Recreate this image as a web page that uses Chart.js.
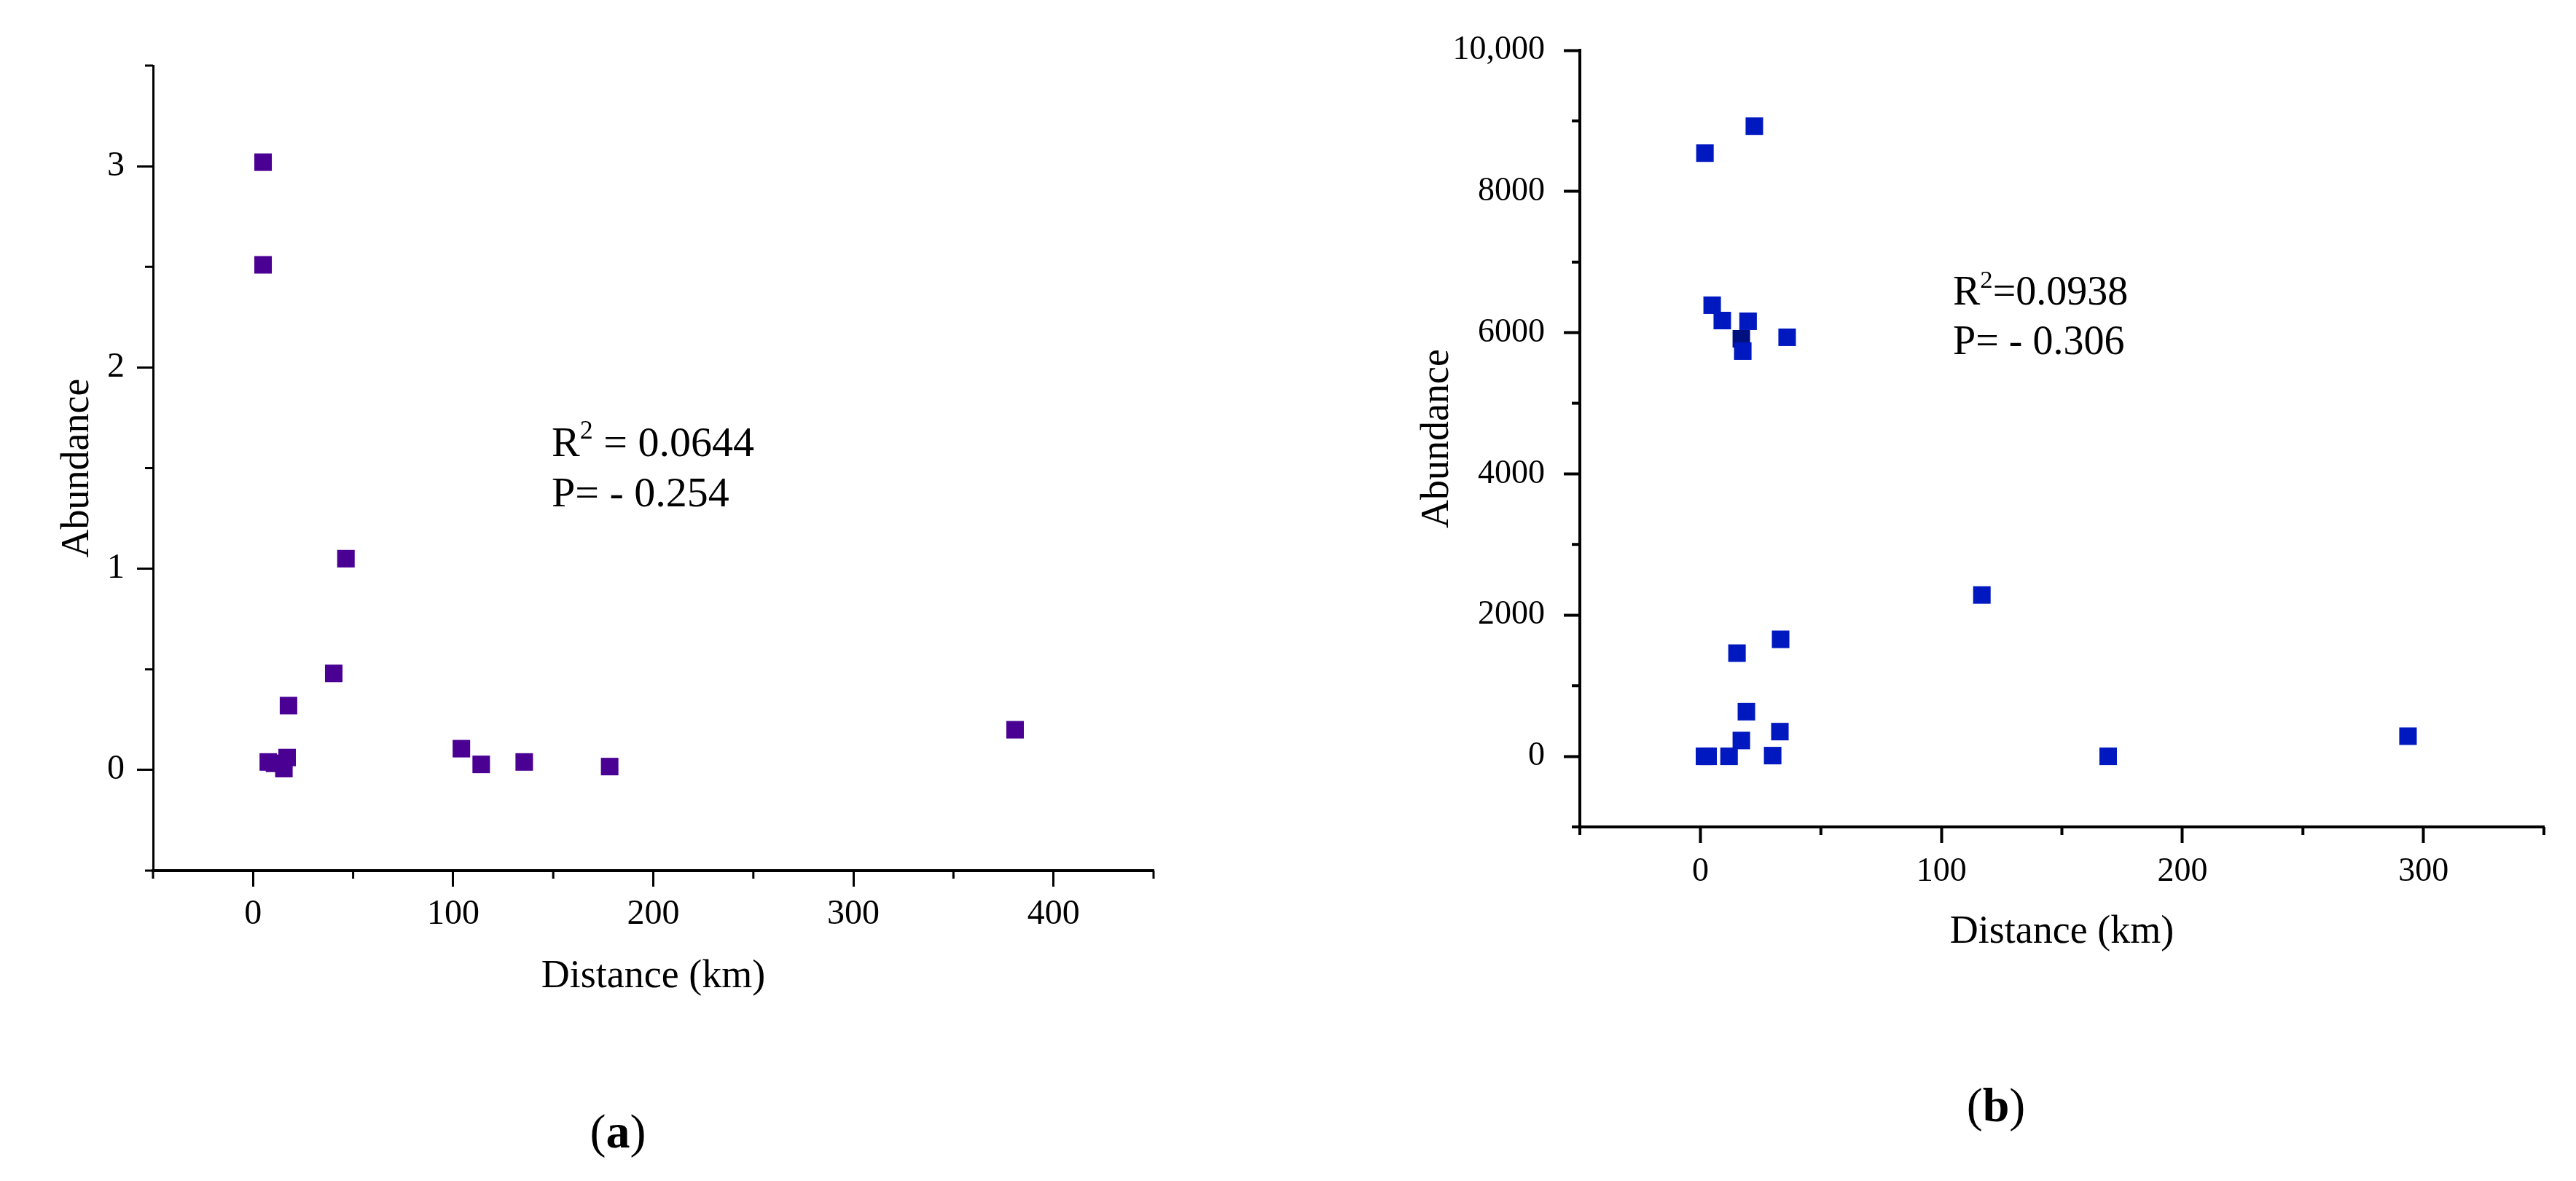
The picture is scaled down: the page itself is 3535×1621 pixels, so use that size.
<!DOCTYPE html>
<html>
<head>
<meta charset="utf-8">
<script src="https://cdn.jsdelivr.net/npm/chart.js@4.4.0/dist/chart.umd.min.js"></script>
<style>
  body { margin: 0; background: #fff; width: 3535px; height: 1621px; position: relative; overflow: hidden; }
  canvas { position: absolute; top: 0; }
  #chartA { left: 0; }
  #chartB { left: 1750px; }
  .stat { position: absolute; font-family: "Liberation Serif", "Times New Roman", serif; color: #000; white-space: pre; }
  .stat sup { font-size: 0.62em; position: relative; top: -0.1em; vertical-align: super; line-height: 0; }
  .panel { position: absolute; font-family: "Liberation Serif", "Times New Roman", serif; font-size: 66px; color: #000; transform: translate(-50%, -50%); }
</style>
</head>
<body>
<canvas id="chartA" width="1700" height="1420"></canvas>
<canvas id="chartB" width="1785" height="1420"></canvas>

<div class="stat" style="left:757px; top:572px; font-size:58px; line-height:69px;">R<sup>2</sup> = 0.0644<br>P= - 0.254</div>
<div class="stat" style="left:2680px; top:365px; font-size:56px; line-height:68px;">R<sup>2</sup>=0.0938<br>P= - 0.306</div>

<div class="panel" style="left:848px; top:1553px;">(<b>a</b>)</div>
<div class="panel" style="left:2739px; top:1517px;">(<b>b</b>)</div>

<script>
// panel (a) - distance vs abundance
const aDistance = [5.0, 5.0, 46.4, 40.3, 17.7, 7.6, 10.7, 15.4, 17.0, 104.1, 114.0, 135.5, 178.2, 380.8];
const aAbundance = [3.02, 2.51, 1.05, 0.48, 0.32, 0.04, 0.033, 0.007, 0.062, 0.106, 0.028, 0.04, 0.017, 0.2];

// panel (b)
const bDistance = [1.9, 22.4, 4.9, 9.1, 19.8, 17.6, 36.0, 116.8, 33.3, 15.2, 19.1, 17.0, 33.0, 1.7, 3.2, 11.9, 30.0, 169.2, 293.6];
const bAbundance = [8543, 8925, 6389, 6172, 6162, 5739, 5935, 2285, 1657, 1461, 632, 224, 350, 0, 0, 0, 10, 0, 285];
// one darker point sits on top of the cluster near 6000
const bDarkDistance = [17.0];
const bDarkAbundance = [5914];

// ticks (all ticks, labelled ones listed separately)
const aXTicks = [-50, 0, 50, 100, 150, 200, 250, 300, 350, 400, 450];
const aXLabels = [0, 100, 200, 300, 400];
const aYTicks = [-0.5, 0, 0.5, 1, 1.5, 2, 2.5, 3, 3.5];
const aYLabels = [0, 1, 2, 3];

const bXTicks = [-50, 0, 50, 100, 150, 200, 250, 300, 350];
const bXLabels = [0, 100, 200, 300];
const bYTicks = [-1000, 0, 1000, 2000, 3000, 4000, 5000, 6000, 7000, 8000, 9000, 10000];
const bYLabels = [0, 2000, 4000, 6000, 8000, 10000];

const FONT = "Liberation Serif";

function toPoints(xs, ys) {
  return xs.map((x, i) => ({ x: x, y: ys[i] }));
}

// Chart.js has no minor ticks, so the short ones are drawn here
const minorTicks = {
  id: "minorTicks",
  afterDraw(chart, args, opts) {
    const ctx = chart.ctx;
    const area = chart.chartArea;
    const xs = chart.scales.x;
    const ys = chart.scales.y;
    ctx.save();
    ctx.strokeStyle = "#000";
    ctx.lineWidth = opts.width;
    ctx.beginPath();
    opts.xValues.forEach((v) => {
      const px = xs.getPixelForValue(v);
      ctx.moveTo(px, area.bottom);
      ctx.lineTo(px, area.bottom + opts.length);
    });
    opts.yValues.forEach((v) => {
      const py = ys.getPixelForValue(v);
      ctx.moveTo(area.left, py);
      ctx.lineTo(area.left - opts.length, py);
    });
    ctx.stroke();
    ctx.restore();
  },
};

function makeScatter(canvas, datasets, cfg) {
  const ctx = canvas.getContext("2d");

  return new Chart(ctx, {
    type: "scatter",
    data: { datasets: datasets },
    options: {
      responsive: false,
      animation: false,
      events: [],
      layout: { padding: cfg.padding },
      plugins: {
        legend: { display: false },
        tooltip: { enabled: false },
        minorTicks: {
          width: cfg.tickWidth,
          length: 11,
          xValues: cfg.xTicks.filter((v) => !cfg.xLabels.includes(v)),
          yValues: cfg.yTicks.filter((v) => !cfg.yLabels.includes(v)),
        },
      },
      scales: {
        x: {
          type: "linear",
          min: cfg.xTicks[0],
          max: cfg.xTicks[cfg.xTicks.length - 1],
          afterBuildTicks: (scale) => {
            scale.ticks = cfg.xTicks.map((v) => ({ value: v }));
          },
          afterFit: (scale) => {
            scale.height = cfg.xAxisHeight;
          },
          border: { display: true, color: "#000", width: cfg.xBorder },
          grid: {
            drawOnChartArea: false,
            drawTicks: true,
            tickLength: 22,
            tickWidth: cfg.tickWidth,
            tickColor: (c) => (cfg.xLabels.includes(c.tick.value) ? "#000" : "rgba(0,0,0,0)"),
          },
          ticks: {
            autoSkip: false,
            maxRotation: 0,
            padding: cfg.xTickPad,
            color: "#000",
            font: { family: FONT, size: cfg.tickSize },
            callback: (v) => (cfg.xLabels.includes(v) ? String(v) : ""),
          },
          title: {
            display: true,
            text: "Distance (km)",
            color: "#000",
            font: { family: FONT, size: 54 },
            padding: { top: 0, bottom: cfg.xTitlePad },
          },
        },
        y: {
          type: "linear",
          min: cfg.yTicks[0],
          max: cfg.yTicks[cfg.yTicks.length - 1],
          afterBuildTicks: (scale) => {
            scale.ticks = cfg.yTicks.map((v) => ({ value: v }));
          },
          afterFit: (scale) => {
            scale.width = cfg.yAxisWidth;
          },
          border: { display: true, color: "#000", width: cfg.yBorder },
          grid: {
            drawOnChartArea: false,
            drawTicks: true,
            tickLength: 22,
            tickWidth: cfg.tickWidth,
            tickColor: (c) => (cfg.yLabels.includes(c.tick.value) ? "#000" : "rgba(0,0,0,0)"),
          },
          ticks: {
            autoSkip: false,
            padding: cfg.yTickPad,
            color: "#000",
            font: { family: FONT, size: cfg.tickSize },
            callback: cfg.yFormat,
          },
          title: {
            display: true,
            text: "Abundance",
            color: "#000",
            font: { family: FONT, size: 54 },
            padding: { top: cfg.yTitlePad, bottom: 0 },
          },
        },
      },
    },
    plugins: [minorTicks],
  });
}

makeScatter(
  document.getElementById("chartA"),
  [
    {
      data: toPoints(aDistance, aAbundance),
      pointStyle: "rect",
      pointRadius: 17,
      borderWidth: 0,
      backgroundColor: "#4b0094",
    },
  ],
  {
    padding: { left: 0, top: 90, right: 117, bottom: 0 },
    xTicks: aXTicks, xLabels: aXLabels, yTicks: aYTicks, yLabels: aYLabels,
    xAxisHeight: 225, yAxisWidth: 210,
    xBorder: 4, yBorder: 3, tickWidth: 3,
    tickSize: 48, xTickPad: 10, yTickPad: 17,
    xTitlePad: 47, yTitlePad: 74,
    yFormat: (v) => (aYLabels.includes(v) ? String(v) : ""),
  }
);

makeScatter(
  document.getElementById("chartB"),
  [
    {
      data: toPoints(bDistance, bAbundance),
      pointStyle: "rect",
      pointRadius: 17,
      borderWidth: 0,
      backgroundColor: "#0018bf",
    },
    {
      data: toPoints(bDarkDistance, bDarkAbundance),
      pointStyle: "rect",
      pointRadius: 17,
      borderWidth: 0,
      backgroundColor: "#00107f",
    },
  ],
  {
    padding: { left: 0, top: 69, right: 44, bottom: 0 },
    xTicks: bXTicks, xLabels: bXLabels, yTicks: bYTicks, yLabels: bYLabels,
    xAxisHeight: 285, yAxisWidth: 418,
    xBorder: 4, yBorder: 4, tickWidth: 4,
    tickSize: 46, xTickPad: 12, yTickPad: 26,
    xTitlePad: 108, yTitlePad: 190,
    yFormat: (v) => (bYLabels.includes(v) ? (v === 10000 ? "10,000" : String(v)) : ""),
  }
);
</script>
</body>
</html>
